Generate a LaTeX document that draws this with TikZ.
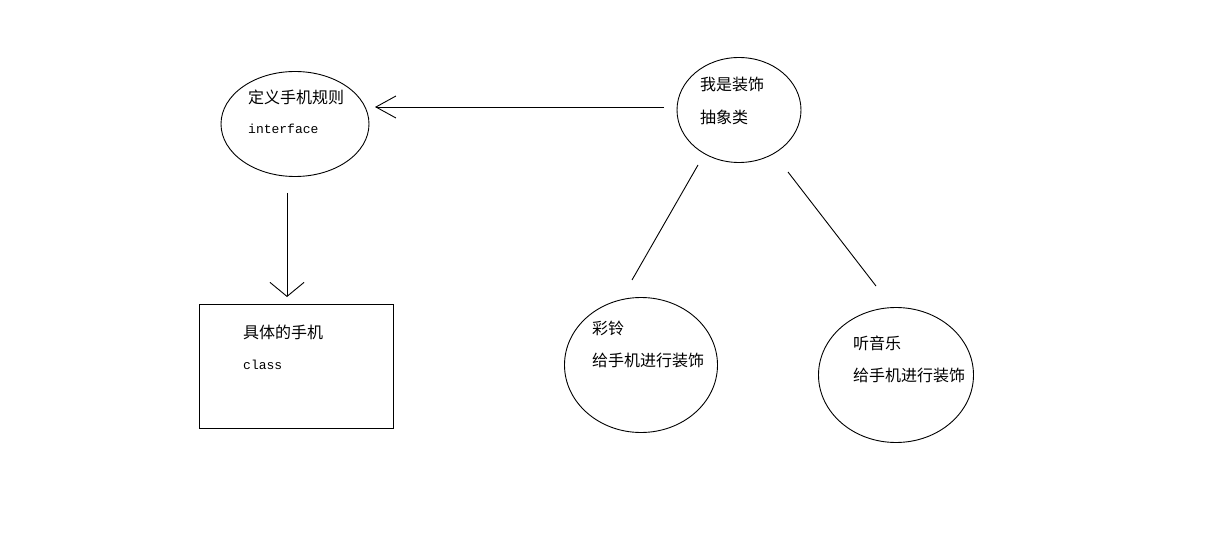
\documentclass[tikz,border=0pt]{standalone}
\usepackage{fontspec}
\newfontfamily\cjk{Noto Sans CJK SC}
\setmonofont{Liberation Mono}
\usetikzlibrary{shapes.geometric, arrows.meta}

\begin{document}
\begin{tikzpicture}[x=1pt, y=-1pt,
  oval/.style={draw, ellipse, line width=0.9pt, inner sep=0pt},
  txt/.style={anchor=west, inner sep=0pt, font=\cjk\fontsize{16}{16}\selectfont},
  code/.style={anchor=west, inner sep=0pt, font=\ttfamily\fontsize{13}{13}\selectfont},
  link/.style={line width=0.9pt}]
  \useasboundingbox[fill=white] (0,0) rectangle (1213,556);

  % interface
  \node[oval, minimum width=148, minimum height=105] (rule) at (295,124) {};
  \node[txt] (ruletxt) at (248,97) {定义手机规则};
  \node[code] (ruleif) at (248,129) {interface};

  % concrete class
  \node[draw, line width=0.9pt, minimum width=194, minimum height=124, inner sep=0pt] (phone) at (296,366) {};
  \node[txt] (phonetxt) at (243,332) {具体的手机};
  \node[code] (phonecls) at (243,365) {class};

  % decorator
  \node[oval, minimum width=124, minimum height=105] (deco) at (739,110) {};
  \node[txt] (decotxt) at (700,84) {我是装饰};
  \node[txt] (decoabs) at (700,117) {抽象类};

  % concrete decorators
  \node[oval, minimum width=153, minimum height=135] (ring) at (641,365) {};
  \node[txt] (ringtxt) at (592,328) {彩铃};
  \node[txt] (ringdo) at (592,360) {给手机进行装饰};

  \node[oval, minimum width=155, minimum height=135] (music) at (896,375) {};
  \node[txt] (musictxt) at (853,343) {听音乐};
  \node[txt] (musicdo) at (853,375) {给手机进行装饰};

  % connector ends
  \coordinate (decoW) at (664,107);
  \coordinate (ruleE) at (375,107);
  \coordinate (ruleS) at (287,193);
  \coordinate (phoneN) at (287,297);
  \coordinate (decoSW) at (698,165);
  \coordinate (ringN) at (632,280);
  \coordinate (decoSE) at (788,172);
  \coordinate (musicN) at (876,286);

  \draw[link, -{Straight Barb[length=20pt, width=22pt]}] (decoW) -- (ruleE);
  \draw[link, -{Straight Barb[length=14pt, width=34pt]}] (ruleS) -- (phoneN);
  \draw[link] (decoSW) -- (ringN);
  \draw[link] (decoSE) -- (musicN);
\end{tikzpicture}
\end{document}
